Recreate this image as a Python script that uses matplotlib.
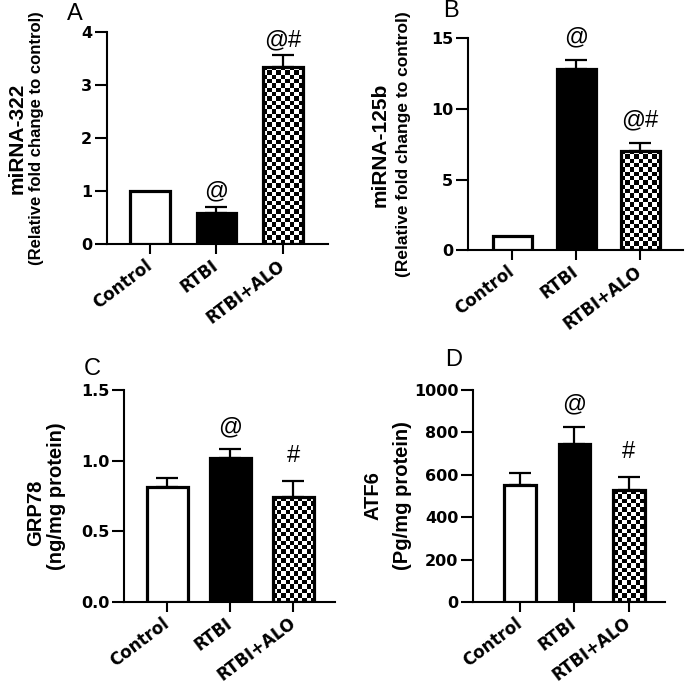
import numpy as np
import matplotlib.pyplot as plt

plt.rcParams['font.family'] = ['Liberation Sans', 'DejaVu Sans']

groups = ["Control", "RTBI", "RTBI+ALO"]

# panel A
mir322 = [1.0, 0.58, 3.35]
mir322_err = [0.0, 0.13, 0.21]
mir322_marks = ["", "@", "@#"]
# panel B
mir125b = [1.0, 12.8, 7.05]
mir125b_err = [0.0, 0.7, 0.55]
mir125b_marks = ["", "@", "@#"]
# panel C
grp78 = [0.81, 1.02, 0.74]
grp78_err = [0.07, 0.06, 0.115]
grp78_marks = ["", "@", "#"]
# panel D
atf6 = [553, 744, 526]
atf6_err = [53, 83, 61]
atf6_marks = ["", "@", "#"]


def checker_fill(ax, bar, cell=4.3):
    x0, y0 = bar.get_x(), bar.get_y()
    x1, y1 = x0 + bar.get_width(), y0 + bar.get_height()
    (px0, py0), (px1, py1) = ax.transData.transform([(x0, y0), (x1, y1)])
    nx = max(1, int(round((px1 - px0) / cell)))
    ny = max(1, int(round((py1 - py0) / cell)))
    grid = (np.add.outer(np.arange(ny), np.arange(nx)) % 2).astype(float)
    im = ax.imshow(grid, cmap='gray', vmin=0, vmax=1, extent=(x0, x1, y0, y1),
                   aspect='auto', interpolation='nearest', zorder=2)
    im.set_clip_path(bar)


def plot_panel(rect, vals, errs, marks, ylim, yticks, yfmt, xlim, width,
               lab1, lab2, size1, size2, labx, letter, letter_xy, pad):
    ax = fig.add_axes(rect)
    ax.set_xlim(*xlim)
    ax.set_ylim(*ylim)
    x = np.arange(len(vals))
    faces = ['white', 'black', 'none']
    bars = ax.bar(x, vals, width=width, color=faces, edgecolor='black',
                  linewidth=2.3, zorder=3)
    checker_fill(ax, bars[2])
    for i in range(len(vals)):
        if errs[i] > 0:
            ax.errorbar(x[i], vals[i], yerr=[[0], [errs[i]]], color='black',
                        elinewidth=1.6, capsize=8, capthick=1.6, zorder=1)
        if marks[i]:
            extra = 2 if marks[i] == "#" else 0
            ax.annotate(marks[i], (x[i], vals[i] + errs[i]), xytext=(0, pad + extra),
                        textcoords='offset points', ha='center', va='center',
                        fontsize=17)
    ax.set_xlim(*xlim)
    ax.set_ylim(*ylim)
    ax.set_yticks(yticks)
    ax.set_yticklabels([yfmt.format(t) for t in yticks], fontweight='bold',
                       family='DejaVu Sans')
    ax.set_xticks(x)
    ax.set_xticklabels(groups, rotation=37, ha='right', va='center',
                       rotation_mode='anchor', fontweight='bold',
                       family='DejaVu Sans')
    ax.tick_params(axis='y', length=9, width=1.5, labelsize=11.5, pad=1.5)
    ax.tick_params(axis='x', length=7, width=1.5, labelsize=12, pad=7)
    for s in ['top', 'right']:
        ax.spines[s].set_visible(False)
    for s in ['left', 'bottom']:
        ax.spines[s].set_linewidth(1.5)
    ax.text(labx[0], labx[2], lab1, transform=ax.transAxes, rotation=90,
            ha='center', va='center', fontsize=size1, fontweight='bold')
    ax.text(labx[1], 0.5, lab2, transform=ax.transAxes, rotation=90,
            ha='center', va='center', fontsize=size2, fontweight='bold')
    fig.text(letter_xy[0], letter_xy[1], letter, ha='center', va='center',
             fontsize=17)
    return ax


fig = plt.figure(figsize=(6.85, 6.84), dpi=100)

plot_panel([0.156, 0.643, 0.323, 0.310], mir322, mir322_err, mir322_marks,
           (0, 4), [0, 1, 2, 3, 4], "{:g}", (-0.65, 2.68), 0.6,
           "miRNA-322", "(Relative fold change to control)", 15, 12,
           (-0.407, -0.317, 0.5), "A", (75 / 685, 1 - 14 / 684), 11)

plot_panel([0.683, 0.634, 0.314, 0.310], mir125b, mir125b_err, mir125b_marks,
           (0, 15), [0, 5, 10, 15], "{:g}", (-0.69, 2.67), 0.61,
           "miRNA-125b", "(Relative fold change to control)", 15, 12.5,
           (-0.41, -0.30, 0.5), "B", (451 / 685, 1 - 11 / 684), 16)

plot_panel([0.181, 0.120, 0.308, 0.310], grp78, grp78_err, grp78_marks,
           (0, 1.5), [0, 0.5, 1.0, 1.5], "{:.1f}", (-0.69, 2.66), 0.66,
           "GRP78", "(ng/mg protein)", 14.5, 14.5,
           (-0.417, -0.318, 0.42), "C", (92 / 685, 1 - 369 / 684), 16)

plot_panel([0.6905, 0.120, 0.280, 0.310], atf6, atf6_err, atf6_marks,
           (0, 1000), [0, 200, 400, 600, 800, 1000], "{:g}", (-0.86, 2.66), 0.58,
           "ATF6", "(Pg/mg protein)", 14.5, 14.5,
           (-0.523, -0.37, 0.5), "D", (454 / 685, 1 - 360 / 684), 16)

fig.savefig("out.png", dpi=100)
